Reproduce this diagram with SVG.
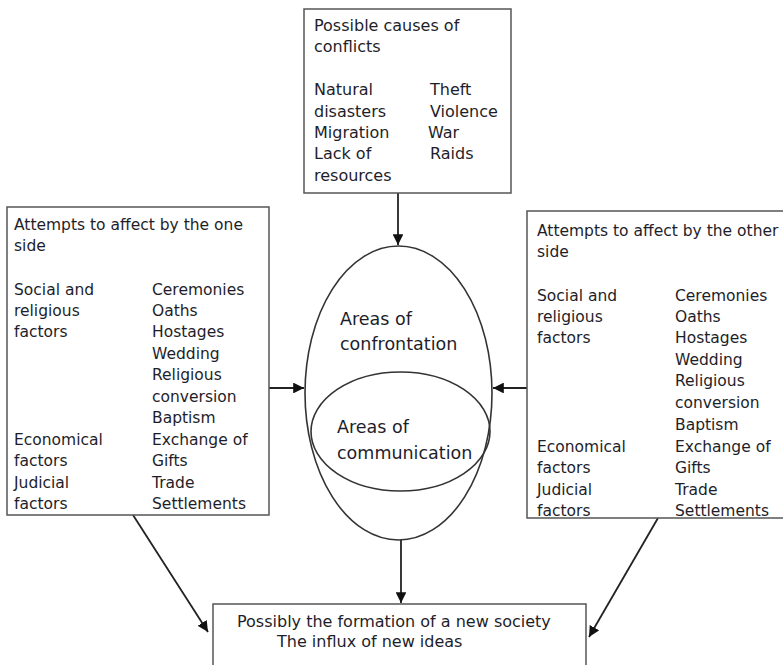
<svg xmlns="http://www.w3.org/2000/svg" width="783" height="665" viewBox="0 0 783 665">
<style>
.box{fill:#fff;stroke:#555;stroke-width:1.5}
.shape{fill:none;stroke:#333;stroke-width:1.6}
.t{font-family:"DejaVu Sans","Liberation Sans",sans-serif;font-size:15.5px;fill:#1e1e2a}
.tt{font-size:16px}
.te{font-size:17.5px}
.c{stroke:#222;stroke-width:1.8;fill:none;marker-end:url(#ah)}
</style>
<defs>
<marker id="ah" viewBox="0 0 10 10" refX="10" refY="5" markerWidth="6" markerHeight="6" markerUnits="strokeWidth" orient="auto">
<path d="M0,0 L10,5 L0,10 z" fill="#111"/>
</marker>
</defs>
<rect width="783" height="665" fill="#fff"/>
<g id="connectors">
<line class="c" x1="398" y1="193" x2="398" y2="245"/>
<line class="c" x1="269" y1="388" x2="304" y2="388"/>
<line class="c" x1="527" y1="388" x2="493" y2="388"/>
<line class="c" x1="401" y1="540" x2="401" y2="603"/>
<line class="c" x1="133" y1="515" x2="208" y2="632"/>
<line class="c" x1="658" y1="518" x2="589" y2="637"/>
</g>
<g id="causes">
<rect class="box" x="304" y="9" width="207" height="184"/>
<text class="t tt" x="314" y="31">Possible causes of</text>
<text class="t tt" x="314" y="52">conflicts</text>
<text class="t tt" x="314" y="95">Natural</text>
<text class="t tt" x="314" y="117">disasters</text>
<text class="t tt" x="314" y="138">Migration</text>
<text class="t tt" x="314" y="159">Lack of</text>
<text class="t tt" x="314" y="181">resources</text>
<text class="t tt" x="430" y="95">Theft</text>
<text class="t tt" x="430" y="117">Violence</text>
<text class="t tt" x="428" y="138">War</text>
<text class="t tt" x="430" y="159">Raids</text>
</g>
<g id="one-side">
<rect class="box" x="7" y="207" width="262" height="308"/>
<text class="t" x="14" y="230">Attempts to affect by the one</text>
<text class="t" x="14" y="251">side</text>
<text class="t" x="14" y="295">Social and</text>
<text class="t" x="14" y="316">religious</text>
<text class="t" x="14" y="337">factors</text>
<text class="t" x="14" y="445">Economical</text>
<text class="t" x="14" y="466">factors</text>
<text class="t" x="14" y="488">Judicial</text>
<text class="t" x="14" y="509">factors</text>
<text class="t" x="152" y="295">Ceremonies</text>
<text class="t" x="152" y="316">Oaths</text>
<text class="t" x="152" y="337">Hostages</text>
<text class="t" x="152" y="359">Wedding</text>
<text class="t" x="152" y="380">Religious</text>
<text class="t" x="152" y="402">conversion</text>
<text class="t" x="152" y="423">Baptism</text>
<text class="t" x="152" y="445">Exchange of</text>
<text class="t" x="152" y="466">Gifts</text>
<text class="t" x="152" y="488">Trade</text>
<text class="t" x="152" y="509">Settlements</text>
</g>
<g id="other-side">
<rect class="box" x="527" y="211" width="270" height="307"/>
<text class="t" x="537" y="236">Attempts to affect by the other</text>
<text class="t" x="537" y="257">side</text>
<text class="t" x="537" y="301">Social and</text>
<text class="t" x="537" y="322">religious</text>
<text class="t" x="537" y="343">factors</text>
<text class="t" x="537" y="452">Economical</text>
<text class="t" x="537" y="473">factors</text>
<text class="t" x="537" y="495">Judicial</text>
<text class="t" x="537" y="516">factors</text>
<text class="t" x="675" y="301">Ceremonies</text>
<text class="t" x="675" y="322">Oaths</text>
<text class="t" x="675" y="343">Hostages</text>
<text class="t" x="675" y="365">Wedding</text>
<text class="t" x="675" y="386">Religious</text>
<text class="t" x="675" y="408">conversion</text>
<text class="t" x="675" y="430">Baptism</text>
<text class="t" x="675" y="452">Exchange of</text>
<text class="t" x="675" y="473">Gifts</text>
<text class="t" x="675" y="495">Trade</text>
<text class="t" x="675" y="516">Settlements</text>
</g>
<g id="areas">
<ellipse class="shape" cx="398.5" cy="393" rx="93.5" ry="147"/>
<ellipse class="shape" cx="400.5" cy="431.5" rx="89.5" ry="59.5"/>
<text class="t te" x="340" y="325">Areas of</text>
<text class="t te" x="340" y="350">confrontation</text>
<text class="t te" x="337" y="433">Areas of</text>
<text class="t te" x="337" y="459">communication</text>
</g>
<g id="result">
<rect class="box" x="213" y="604" width="373" height="80"/>
<text class="t tt" x="237" y="627">Possibly the formation of a new society</text>
<text class="t tt" x="277" y="647">The influx of new ideas</text>
</g>
</svg>
